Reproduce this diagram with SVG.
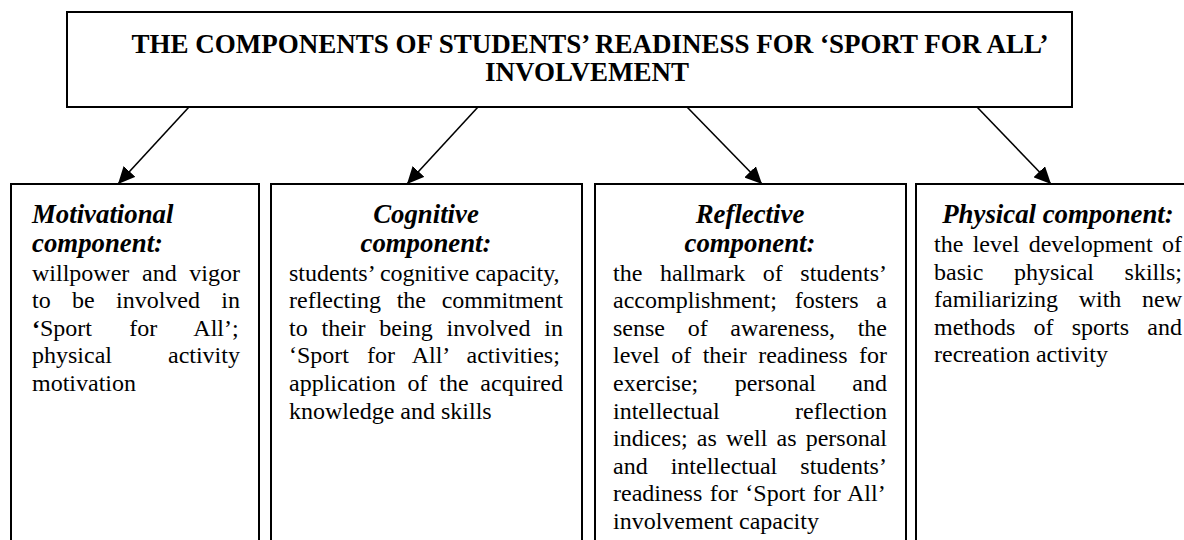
<svg xmlns="http://www.w3.org/2000/svg" width="1184" height="540" viewBox="0 0 1184 540">
<style>
.box{fill:#fff;stroke:#000;stroke-width:2}
.title{font-family:"Liberation Serif","Times New Roman",serif;font-weight:bold;font-size:27px;fill:#000;text-anchor:middle}
.head{font-family:"Liberation Serif","Times New Roman",serif;font-weight:bold;font-style:italic;font-size:26.8px;fill:#000}
.c{text-anchor:middle}
.body{font-family:"Liberation Serif","Times New Roman",serif;font-size:24px;fill:#000}
.conn{stroke:#000;stroke-width:1.6;fill:none}
</style>
<defs>
<marker id="ah" markerUnits="userSpaceOnUse" markerWidth="18" markerHeight="16" refX="17" refY="8" orient="auto">
<path d="M0,0 L17,8 L0,16 Z" fill="#000"/>
</marker>
</defs>
<rect width="1184" height="540" fill="#fff"/>

<g id="top">
<rect class="box" x="67" y="12" width="1005" height="95"/>
<text class="title" x="590" y="53">THE COMPONENTS OF STUDENTS’ READINESS FOR ‘SPORT FOR ALL’</text>
<text class="title" x="587" y="81">INVOLVEMENT</text>
</g>

<g id="connectors">
<line class="conn" x1="189" y1="107" x2="118" y2="184" marker-end="url(#ah)"/>
<line class="conn" x1="478" y1="107" x2="407" y2="184" marker-end="url(#ah)"/>
<line class="conn" x1="687" y1="107" x2="762" y2="184" marker-end="url(#ah)"/>
<line class="conn" x1="977" y1="107" x2="1051" y2="184" marker-end="url(#ah)"/>
</g>

<g id="motivational">
<rect class="box" x="11" y="184" width="248" height="400"/>
<text class="head" x="32" y="223">Motivational</text>
<text class="head" x="32" y="252">component:</text>
<text class="body" x="32" y="280.5" style="word-spacing:6.68px">willpower and vigor</text>
<text class="body" x="32" y="308.1" style="word-spacing:15.33px">to be involved in</text>
<text class="body" x="32" y="335.7" style="word-spacing:31.34px"><tspan font-weight="bold">‘</tspan>Sport for All’;</text>
<text class="body" x="32" y="363.3" style="word-spacing:50px">physical activity</text>
<text class="body" x="32" y="390.9">motivation</text>
</g>

<g id="cognitive">
<rect class="box" x="271" y="184" width="311" height="400"/>
<text class="head c" x="426" y="223">Cognitive</text>
<text class="head c" x="426" y="252">component:</text>
<text class="body" x="289" y="280.5">students’ cognitive capacity,</text>
<text class="body" x="289" y="308.1" style="word-spacing:9.68px">reflecting the commitment</text>
<text class="body" x="289" y="335.7" style="word-spacing:7.83px">to their being involved in</text>
<text class="body" x="289" y="363.3" style="word-spacing:12px">‘Sport for All’ activities;</text>
<text class="body" x="289" y="390.9" style="word-spacing:5.8px">application of the acquired</text>
<text class="body" x="289" y="418.5">knowledge and skills</text>
</g>

<g id="reflective">
<rect class="box" x="595" y="184" width="311" height="400"/>
<text class="head c" x="750" y="223">Reflective</text>
<text class="head c" x="750" y="252">component:</text>
<text class="body" x="613" y="280.5" style="word-spacing:11.57px">the hallmark of students’</text>
<text class="body" x="613" y="308.1" style="word-spacing:11.68px">accomplishment; fosters a</text>
<text class="body" x="613" y="335.7" style="word-spacing:16.69px">sense of awareness, the</text>
<text class="body" x="613" y="363.3" style="word-spacing:5.52px">level of their readiness for</text>
<text class="body" x="613" y="390.9" style="word-spacing:30.37px">exercise; personal and</text>
<text class="body" x="613" y="418.5" style="word-spacing:69.38px">intellectual reflection</text>
<text class="body" x="613" y="446.1" style="word-spacing:3.18px">indices; as well as personal</text>
<text class="body" x="613" y="473.7" style="word-spacing:17.01px">and intellectual students’</text>
<text class="body" x="613" y="501.3" style="word-spacing:1.52px">readiness for ‘Sport for All’</text>
<text class="body" x="613" y="528.9">involvement capacity</text>
</g>

<g id="physical">
<rect class="box" x="916" y="184" width="290" height="400"/>
<text class="head c" x="1058" y="223">Physical component:</text>
<text class="body" x="934" y="252" style="word-spacing:3.35px">the level development of</text>
<text class="body" x="934" y="279.6" style="word-spacing:24.66px">basic physical skills;</text>
<text class="body" x="934" y="307.2" style="word-spacing:14.68px">familiarizing with new</text>
<text class="body" x="934" y="334.8" style="word-spacing:12.23px">methods of sports and</text>
<text class="body" x="934" y="362.4">recreation activity</text>
</g>
</svg>
